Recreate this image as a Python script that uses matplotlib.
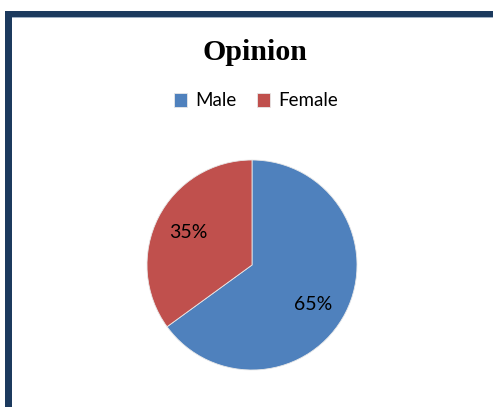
import matplotlib
matplotlib.use("Agg")
import matplotlib.pyplot as plt
from matplotlib.patches import Rectangle

labels = ["Male", "Female"]
shares = [65, 35]
colors = ["#4F81BD", "#C0504D"]
title = "Opinion"

W, H = 493, 407
fig = plt.figure(figsize=(W / 100, H / 100), dpi=100)
fig.patch.set_facecolor("white")

# dark frame along the top and left edges
navy = "#1c3a5e"
fig.patches.append(Rectangle((5 / W, 0), 7 / W, 1 - 11 / H, transform=fig.transFigure,
                             facecolor=navy, edgecolor="none"))
fig.patches.append(Rectangle((5 / W, 1 - 17 / H), 1, 6 / H, transform=fig.transFigure,
                             facecolor=navy, edgecolor="none"))
fig.patches.append(Rectangle((12 / W, 1 - 18 / H), 1, 1 / H, transform=fig.transFigure,
                             facecolor="#9fb0c4", edgecolor="none"))

# pie: centre (252, 265) px, radius 105 px
cx, cy, r = 252, 265, 105
ax = fig.add_axes([(cx - r) / W, (H - cy - r) / H, 2 * r / W, 2 * r / H])
wedges, _, autotexts = ax.pie(
    shares, colors=colors, startangle=90, counterclock=False,
    autopct="%1.0f%%", pctdistance=0.68,
    wedgeprops=dict(edgecolor="#e8e8e8", linewidth=0.6),
    textprops=dict(fontsize=14, family="Lato", color="black"),
)
# nudge the larger slice's label a little lower
x0, y0 = autotexts[0].get_position()
autotexts[0].set_position((x0 - 0.02, y0 - 0.07))
ax.set_xlim(-1, 1)
ax.set_ylim(-1, 1)

fig.text(255 / W, 1 - 60 / H, title, ha="center", va="baseline",
         fontsize=21.5, fontweight="bold", family="Liberation Serif")

fig.legend(wedges, labels, loc="center", bbox_to_anchor=(256 / W, 1 - 101 / H),
           ncol=2, frameon=False, handlelength=0.7, handleheight=0.7,
           handletextpad=0.45, columnspacing=1.1,
           prop=dict(family="Lato", size=13.5))

fig.savefig("out.png", dpi=100, facecolor="white")
